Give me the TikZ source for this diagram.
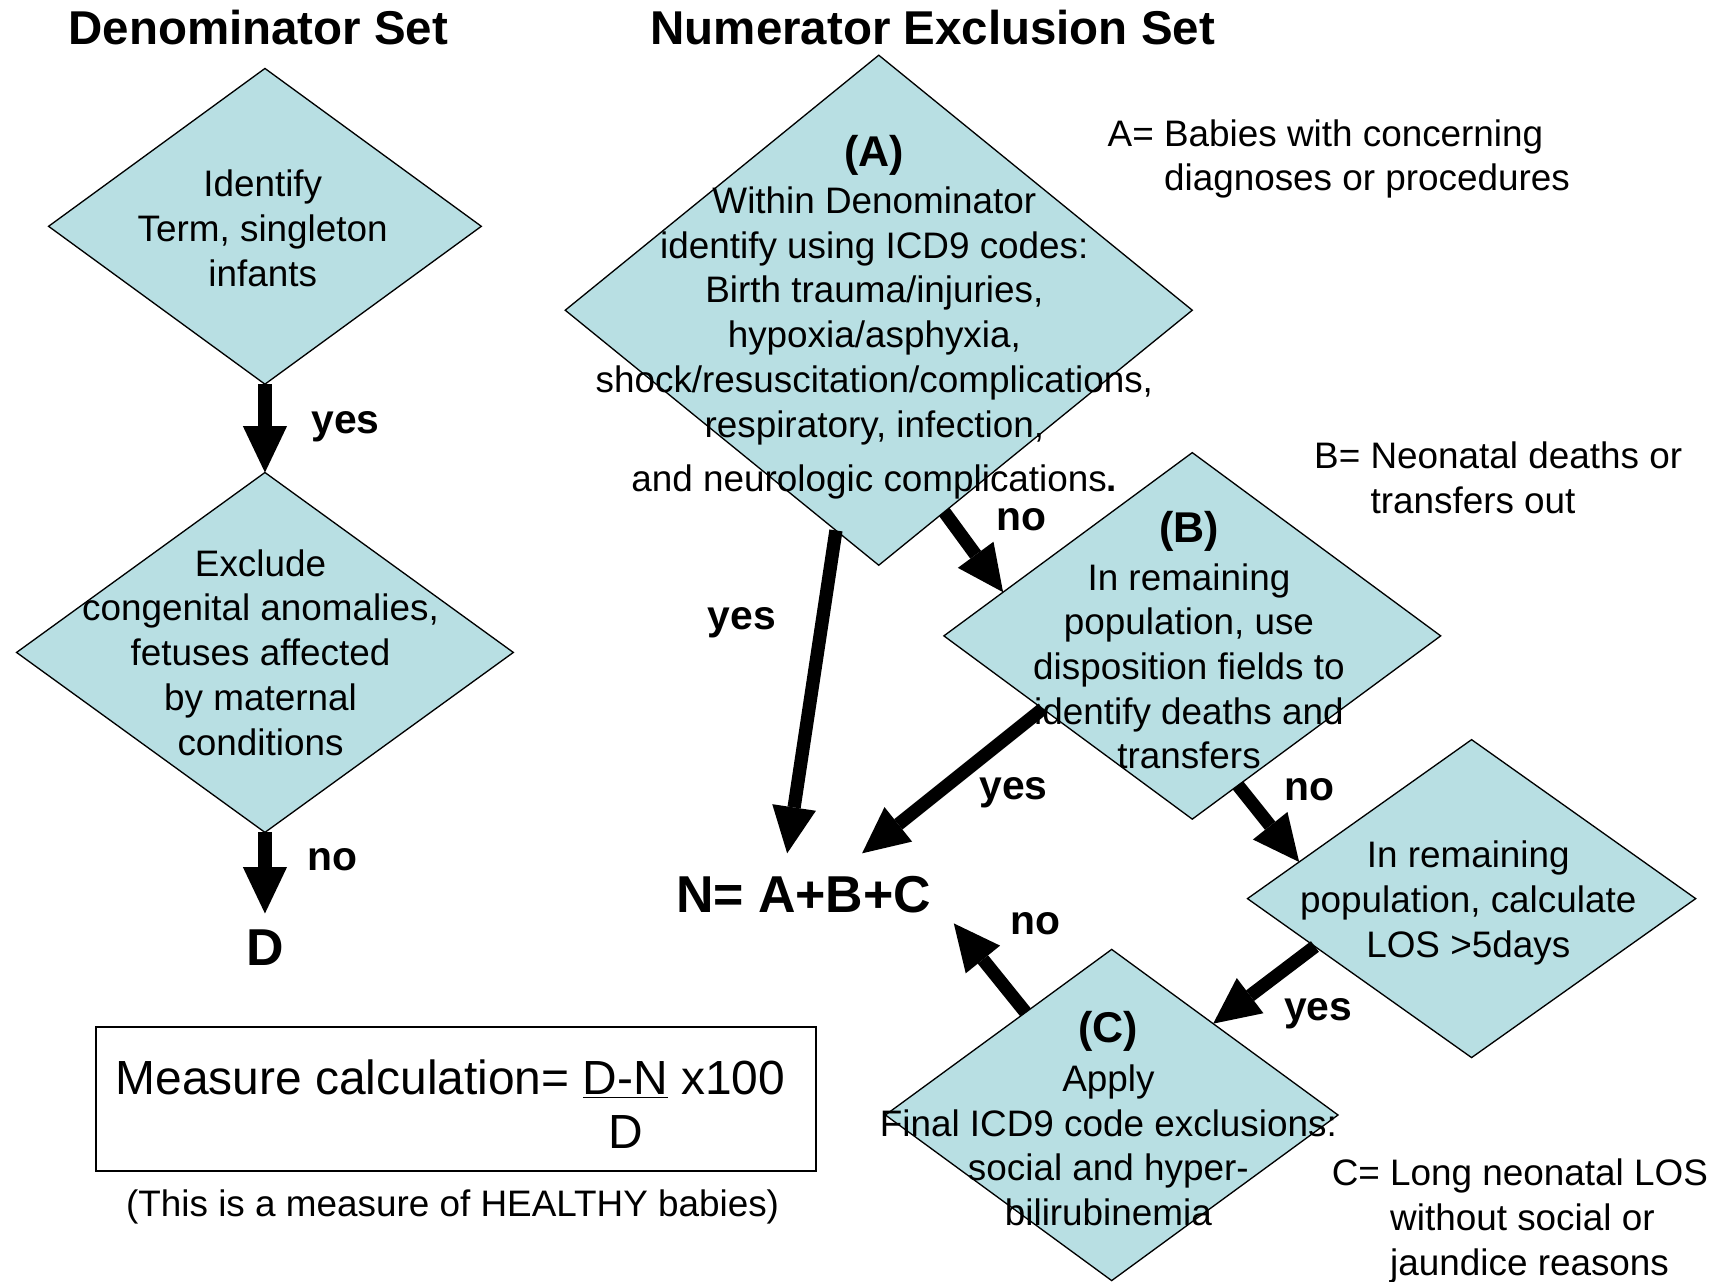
\documentclass[tikz,border=0pt]{standalone}
\usepackage{fontspec}
\setmainfont{Liberation Sans}
\usetikzlibrary{shapes.geometric,arrows.meta}
\definecolor{paleaqua}{HTML}{B8DFE3}
\newcommand{\bodysize}{\fontsize{16.7}{20.25}\selectfont}
\newcommand{\stepmark}[1]{{\bfseries\fontsize{19.5}{20.25}\selectfont (#1)}}

\tikzset{
  decision/.style={diamond,draw=black,line width=0.6pt,fill=paleaqua,inner sep=0pt,outer sep=0pt},
  dtext/.style={align=center,font=\bodysize,inner sep=0pt},
  tag/.style={font=\bfseries\fontsize{18.5}{22}\selectfont,inner sep=0pt},
  flow/.style={line width=6pt,-{Triangle[length=21pt,width=20pt,line width=0pt]}},
  heading/.style={font=\bfseries\fontsize{21.5}{26}\selectfont,inner sep=0pt},
  result/.style={font=\bfseries\fontsize{23.5}{28}\selectfont},
  key/.style={anchor=west,inner sep=0pt,font=\bodysize},
}

\begin{document}
\begin{tikzpicture}[x=0.5pt,y=-0.5pt]
\useasboundingbox (0,0) rectangle (1568,1161);

\node[heading] (dentitle) at (234,25) {Denominator Set};
\node[heading] (numtitle) at (845,25) {Numerator Exclusion Set};

% denominator column
\node[decision,minimum width=196pt,minimum height=143pt] (ident) at (240,205) {};
\node[dtext] (identtxt) at (238,207) {Identify\\Term, singleton\\infants};
\node[decision,minimum width=225pt,minimum height=163pt] (excl) at (240,591) {};
\node[dtext] (excltxt) at (236,591) {Exclude\\congenital anomalies,\\fetuses affected\\by maternal\\conditions};
\node[result,inner sep=7pt] (denD) at (240,858) {D};

% numerator column
\node[decision,minimum width=284pt,minimum height=231pt] (diaA) at (796,281) {};
\node[dtext] (txtA) at (792,287) {\stepmark{A}\\[1.25pt]
  Within Denominator\\identify using ICD9 codes:\\Birth trauma/injuries,\\hypoxia/asphyxia,\\
  shock/resuscitation/complications,\\respiratory, infection,\\[4.25pt]
  and neurologic complications{\bfseries .}};
\node[decision,minimum width=225pt,minimum height=166pt] (diaB) at (1080,576) {};
\node[dtext] (txtB) at (1077,580) {\stepmark{B}\\[1.25pt]
  In remaining\\population, use\\disposition fields to\\identify deaths and\\transfers};
\node[decision,minimum width=203pt,minimum height=144pt] (diaL) at (1333,814) {};
\node[dtext] (txtL) at (1330,818) {In remaining\\population, calculate\\LOS >5days};
\node[decision,minimum width=205pt,minimum height=150pt] (diaC) at (1007,1010) {};
\node[dtext] (txtC) at (1004,1013.5) {\stepmark{C}\\[1.75pt]
  Apply\\Final ICD9 code exclusions:\\social and hyper-\\bilirubinemia};
\node[result,inner sep=10pt] (numN) at (728,810) {N= A+B+C};

% legends
\node[key] (keyA) at (1003,144.5) {\begin{tabular}{@{}l@{ }l@{}}A= & Babies with concerning\\ & diagnoses or procedures\end{tabular}};
\node[key] (keyB) at (1190,436.5) {\begin{tabular}{@{}l@{ }l@{}}B= & Neonatal deaths or\\ & transfers out\end{tabular}};
\node[key] (keyC) at (1206,1106.5) {\begin{tabular}{@{}l@{ }l@{}}C= & Long neonatal LOS\\ & without social or\\ & jaundice reasons\end{tabular}};

% connectors
\draw[flow] (ident.south) -- (excl.north);
\draw[flow] (excl.south) -- (denD.north);
\draw[flow] (diaA.259) -- (numN.112);
\draw[flow] (diaA.-72) -- (diaB.167);
\draw[flow] (diaB.206) -- (numN.35);
\draw[flow] (diaB.-73) -- (diaL.168);
\draw[flow] (diaL.197) -- (diaC.42);
\draw[flow] (diaC.130) -- (numN.-11);

\node[tag] (yes1) at (313,387) {yes};
\node[tag] (no1) at (301,779) {no};
\node[tag] (yesA) at (672,564) {yes};
\node[tag] (noA) at (925,471) {no};
\node[tag] (yesB) at (918,718) {yes};
\node[tag] (noB) at (1186,715) {no};
\node[tag] (yesL) at (1194,918) {yes};
\node[tag] (noC) at (938,837) {no};

% measure box
\node[draw=black,line width=0.8pt,minimum width=326pt,minimum height=65.5pt,inner sep=0pt] (calc) at (413,995.5) {};
\node[inner sep=0pt,font=\fontsize{21.7}{24.5}\selectfont] (calctxt) at (408,1006) {Measure calculation= \begin{tabular}[t]{@{}c@{}}\underline{D-N}\\D\end{tabular} x100};
\node[dtext] (healthy) at (410,1093) {(This is a measure of HEALTHY babies)};
\end{tikzpicture}
\end{document}
